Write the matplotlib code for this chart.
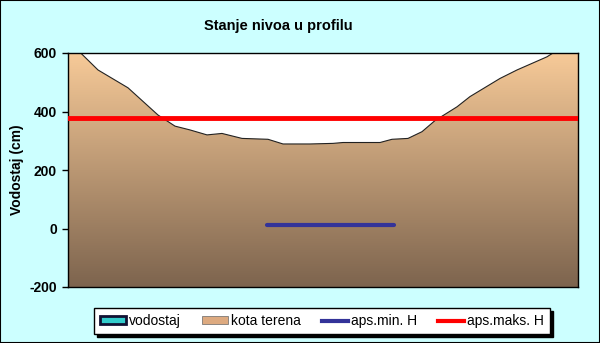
import numpy as np
import matplotlib
matplotlib.use('Agg')
import matplotlib.pyplot as plt
from matplotlib.patches import Rectangle, Patch
from matplotlib.lines import Line2D

plt.rcParams['font.family'] = ['Liberation Sans', 'DejaVu Sans']
plt.rcParams['axes.unicode_minus'] = False

# profile stations (m) and terrain elevation (cm)
stanica = [0, 12.7, 30, 60, 90, 107, 122, 139, 154, 174, 200, 215, 242, 265, 275,
           312, 324, 340, 354, 367, 389, 402, 432, 449, 479, 485, 510]
kota_terena = [640, 600, 542, 481, 388, 350, 337, 320, 325, 308, 305, 289, 289, 291, 294,
               294, 305, 308, 331, 369, 416, 451, 513, 542, 587, 600, 650]

aps_min_h = 13
aps_min_od, aps_min_do = 199, 326
aps_maks_h = 379

fig = plt.figure(figsize=(6, 3.43), dpi=100, facecolor='#CCFFFF')
ax = fig.add_axes([68/600, 56/343, 510/600, 234/343])
ax.set_facecolor('white')

x0, x1 = 0, 510
y0, y1 = -200, 600
ax.set_xlim(x0, x1)
ax.set_ylim(y0, y1)

# terrain fill with vertical gradient
poly = ax.fill_between(stanica, kota_terena, y0, color='none', lw=0)
top = np.array([247, 202, 152]) / 255
bot = np.array([125, 100, 78]) / 255
t = np.linspace(0, 1, 256)[:, None]
grad = (top * (1 - t) + bot * t)[:, None, :]
img = ax.imshow(grad, extent=[x0, x1, y0, y1], aspect='auto', origin='upper', zorder=1)
img.set_clip_path(poly.get_paths()[0], transform=ax.transData)
ax.plot(stanica, kota_terena, color='#222222', lw=0.8, zorder=2)

ax.axhline(aps_maks_h, color='#FF0000', lw=3.5, zorder=3)
ax.plot([aps_min_od, aps_min_do], [aps_min_h, aps_min_h], color='#333399', lw=3, zorder=3,
        solid_capstyle='round')

ax.set_yticks([-200, 0, 200, 400, 600])
ax.set_xticks([])
ax.tick_params(axis='y', direction='out', length=4, width=1, labelsize=10, pad=4)
for lbl in ax.get_yticklabels():
    lbl.set_fontweight('bold')
for s in ax.spines.values():
    s.set_linewidth(1)
ax.set_ylabel('Vodostaj (cm)', fontsize=10, fontweight='bold')
ax.yaxis.set_label_coords(-0.086, 0.5)

fig.text(278/600, 1 - 26/343, 'Stanje nivoa u profilu', ha='center', va='center',
         fontsize=10.5, fontweight='bold')

handles = [Patch(facecolor='#33CCCC', edgecolor='#111133', lw=2),
           Patch(facecolor='#DDAA80', edgecolor='#666666', lw=0.5),
           Line2D([], [], color='#333399', lw=3),
           Line2D([], [], color='#FF0000', lw=3)]
labels = ['vodostaj', 'kota terena', 'aps.min. H', 'aps.maks. H']
leg = fig.legend(handles, labels, loc='center', bbox_to_anchor=(322/600, 1 - 321/343),
                 ncol=4, frameon=True, fancybox=False, shadow={'color': 'black', 'alpha': 1},
                 edgecolor='black', fontsize=10, handlelength=1.9, handleheight=0.5,
                 columnspacing=1.5, handletextpad=0.2, borderpad=0.45, borderaxespad=0)
leg.get_frame().set_linewidth(1)

fig.patches.append(Rectangle((0, 0), 1, 1, transform=fig.transFigure, fill=False,
                             edgecolor='black', lw=1.5))

fig.savefig('out.png', dpi=100, facecolor=fig.get_facecolor())
